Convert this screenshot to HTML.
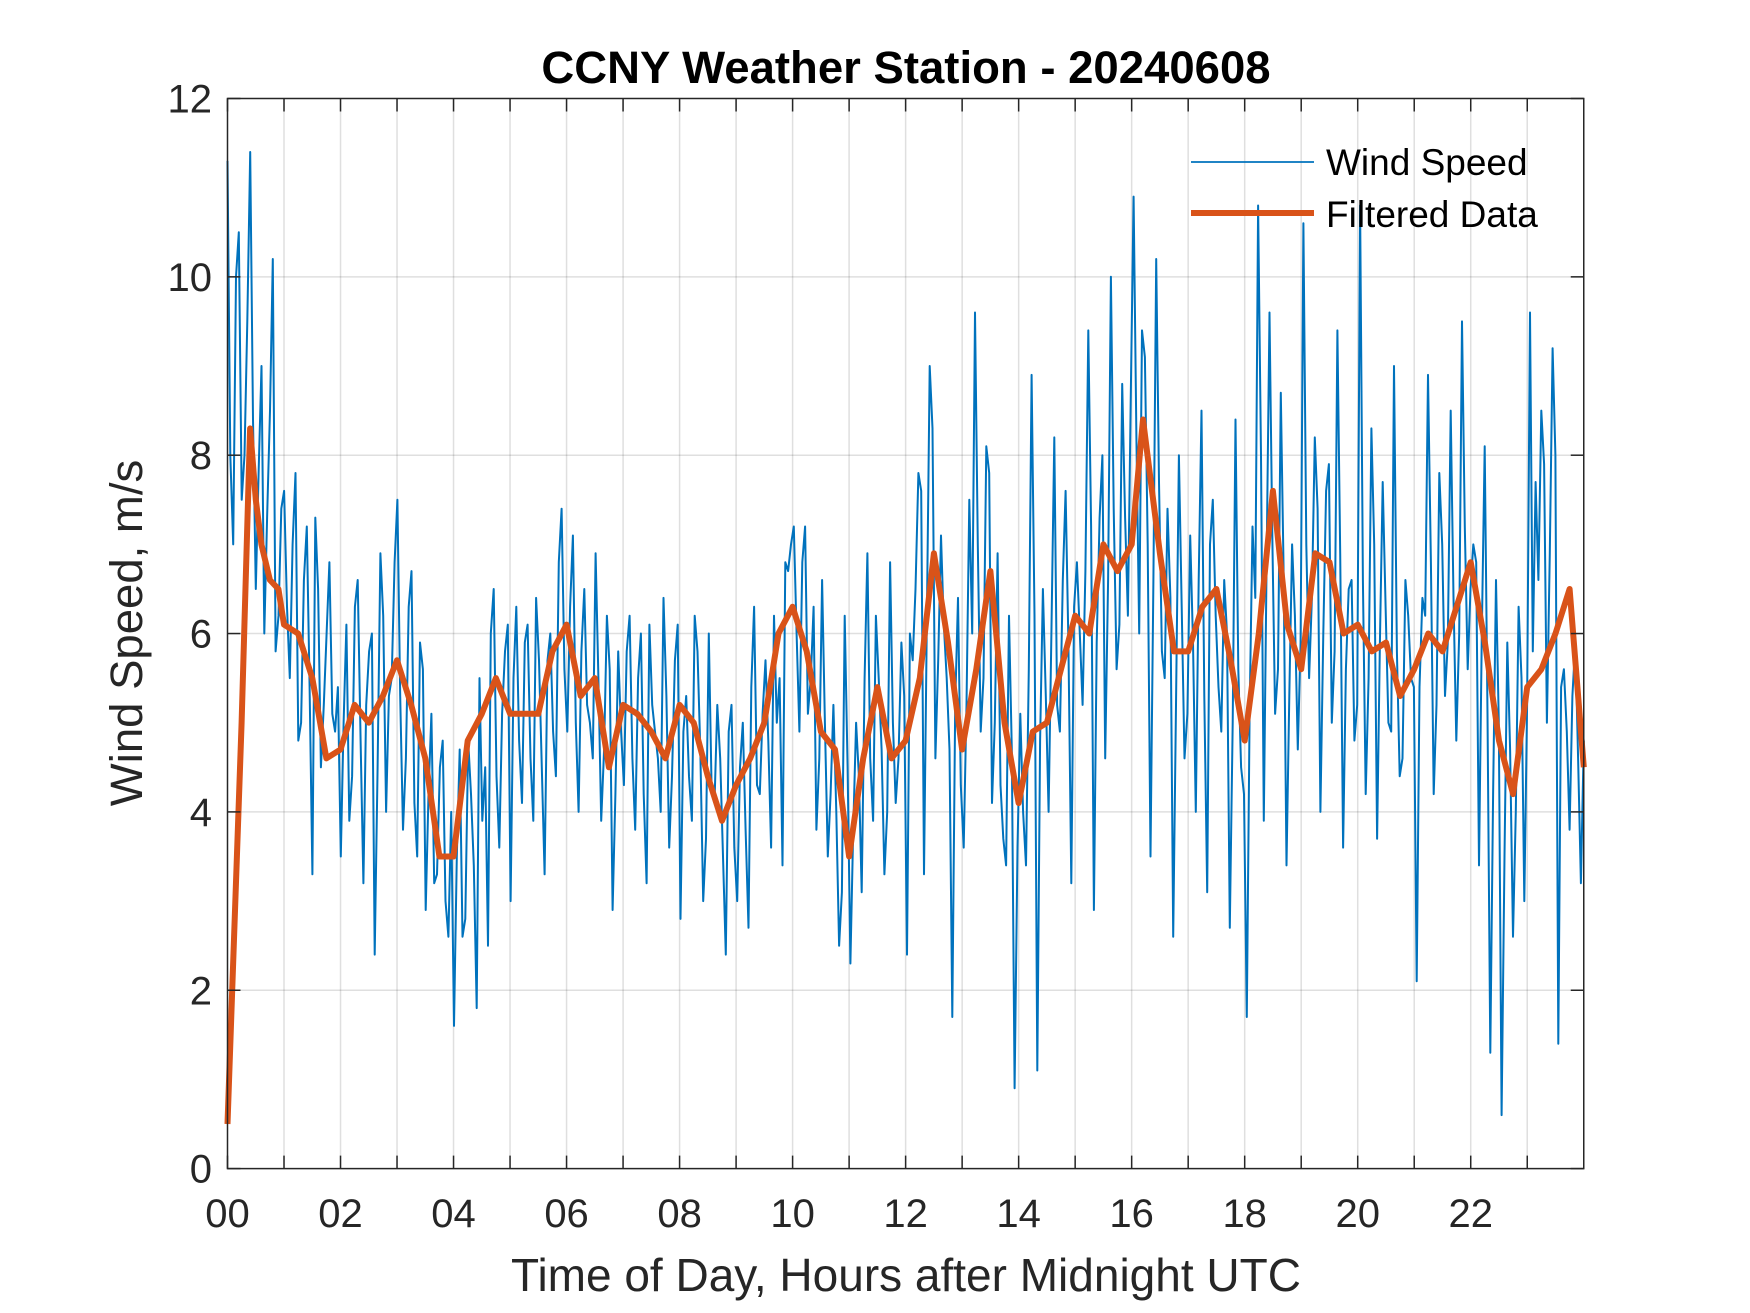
<!DOCTYPE html>
<html><head><meta charset="utf-8"><style>
html,body{margin:0;padding:0;background:#fff;}
svg{display:block;font-family:"Liberation Sans",Arial,sans-serif;}
</style></head><body>
<svg id="chart" width="1750" height="1313" viewBox="0 0 1750 1313">
<rect x="0" y="0" width="1750" height="1313" fill="#fff"/>
<g id="grid"></g>
<g id="series"></g>
<g id="axes"></g>
<text x="906" y="83" text-anchor="middle" font-size="45.5" font-weight="bold" fill="#000">CCNY Weather Station - 20240608</text>
<text x="906" y="1291" text-anchor="middle" font-size="46" fill="#262626">Time of Day, Hours after Midnight UTC</text>
<text transform="translate(142,633) rotate(-90)" text-anchor="middle" font-size="45.5" fill="#262626">Wind Speed, m/s</text>
<g>
<line x1="1191" y1="162" x2="1314" y2="162" stroke="#0072BD" stroke-width="1.8"/>
<text x="1326" y="175" font-size="37" fill="#000">Wind Speed</text>
<line x1="1191" y1="213" x2="1314" y2="213" stroke="#D95319" stroke-width="6"/>
<text x="1326" y="227" font-size="37" fill="#000">Filtered Data</text>
</g>
</svg>
<script>
const xTickLabels = ["00","02","04","06","08","10","12","14","16","18","20","22"];
const yTickLabels = ["0","2","4","6","8","10","12"];
const windSpeed = [
11.3,7.0,10.5,8.0,11.4,6.5,9.0,7.3,10.2,6.2,
7.6,5.5,7.8,5.0,7.2,3.3,6.5,5.2,6.8,4.9,
3.5,6.1,4.4,6.6,3.2,5.8,2.4,6.9,4.0,5.5,
7.5,3.8,6.3,4.1,5.9,2.9,5.1,3.3,4.8,2.6,
1.6,4.7,2.8,4.2,1.8,3.9,2.5,6.5,3.6,5.8,
3.0,6.3,4.1,6.1,3.9,5.7,3.3,6.0,4.4,7.4,
4.9,7.1,4.0,6.5,5.0,6.9,3.9,6.2,2.9,5.8,
4.3,6.2,3.8,6.0,3.2,5.2,4.6,6.4,3.6,5.7,
2.8,5.3,3.9,5.8,3.0,6.0,4.1,4.6,2.4,5.2,
3.0,5.0,2.7,6.3,4.2,5.7,3.6,5.0,3.4,6.7,
7.2,4.9,7.2,5.5,3.8,6.6,3.5,5.2,2.5,6.2,
2.3,5.0,3.1,6.9,3.9,5.5,3.3,6.8,4.1,5.9,
2.4,5.7,7.8,3.3,9.0,4.6,7.1,5.5,1.7,6.4,
3.6,7.5,9.6,4.9,8.1,4.1,6.9,3.7,6.2,0.9,
5.1,3.4,8.9,1.1,6.5,4.0,8.2,4.9,7.6,3.2,
6.8,5.2,9.4,2.9,7.3,4.6,10.0,5.6,8.8,6.2,
10.9,6.0,9.1,3.5,10.2,5.8,7.4,2.6,8.0,4.6,
7.1,4.0,8.5,3.1,7.5,5.4,6.6,2.7,8.4,4.5,
1.7,7.2,10.8,3.9,9.6,5.1,8.7,3.4,7.0,4.7,
10.6,5.5,8.2,4.0,7.6,5.0,9.4,3.6,6.5,4.8,
10.8,4.2,8.3,3.7,7.7,5.0,9.0,4.4,6.6,5.5,
2.1,6.4,8.9,4.2,7.8,5.3,8.5,4.8,9.5,5.6,
7.0,3.4,8.1,1.3,6.6,0.6,5.9,2.6,6.3,3.0,
9.6,7.7,8.5,5.0,9.2,1.4,5.6,3.8,5.9,3.2];
const windSpeedB = [
8.0,10.0,7.5,9.5,8.4,7.8,6.0,8.5,5.8,7.4,
6.3,7.0,4.8,6.6,5.4,7.3,4.5,6.0,5.1,5.4,
5.0,3.9,6.3,4.8,5.2,6.0,4.5,6.2,5.3,6.8,
5.3,4.6,6.7,3.5,5.6,4.2,3.2,4.5,3.0,4.0,
3.5,2.6,4.8,3.4,5.5,4.5,6.0,4.4,5.1,6.1,
5.5,4.8,5.9,4.6,6.4,4.5,5.7,4.9,6.8,5.6,
6.3,5.0,5.8,5.2,4.6,5.5,4.7,5.6,4.2,4.9,
5.8,4.6,5.5,4.2,6.1,4.9,4.0,5.3,4.4,6.1,
4.9,4.4,6.2,4.7,3.7,4.2,5.2,3.5,4.9,3.6,
4.5,3.8,5.4,4.3,5.1,4.8,6.2,5.5,6.8,7.0,
6.0,6.8,5.1,6.3,4.6,5.0,4.2,4.0,3.1,4.5,
3.8,4.4,5.5,4.6,6.2,4.7,4.0,5.0,4.6,5.3,
6.0,6.5,7.6,6.2,8.3,5.7,6.1,4.7,5.2,4.3,
5.2,6.0,7.0,5.5,7.8,5.0,4.3,3.4,4.7,3.6,
4.0,5.6,6.2,4.8,5.3,6.0,5.2,6.6,5.9,6.3,
6.0,6.7,7.2,5.9,8.0,6.6,7.4,6.1,7.3,8.6,
8.2,9.4,7.0,6.6,7.7,5.5,6.4,5.2,6.3,5.1,
5.9,6.6,5.3,7.0,6.2,4.9,6.0,5.0,5.6,4.2,
5.1,6.4,8.0,6.8,7.1,5.6,6.7,5.3,6.2,5.9,
7.0,6.4,7.4,6.0,7.9,5.8,6.9,5.6,6.6,5.2,
6.6,5.5,7.0,5.9,6.3,4.9,5.8,4.6,6.2,5.4,
5.4,6.2,6.8,5.2,7.0,5.9,6.4,6.0,7.2,6.5,
6.8,6.0,5.1,4.2,5.0,3.5,4.7,4.0,5.5,5.2,
5.8,6.6,7.9,6.9,8.0,5.4,4.9,5.3,4.6,4.8];
const filteredHours = [0,0.25,0.4,0.5,0.6,0.75,0.9,1.0,1.25,1.5,1.75,2.0,2.25,2.5,2.75,3.0,3.25,3.5,3.75,4.0,4.25,4.5,4.75,5.0,5.25,5.5,5.75,6.0,6.25,6.5,6.75,7.0,7.25,7.5,7.75,8.0,8.25,8.5,8.75,9.0,9.25,9.5,9.75,10.0,10.25,10.5,10.75,11.0,11.25,11.5,11.75,12.0,12.25,12.5,12.75,13.0,13.25,13.5,13.75,14.0,14.25,14.5,14.75,15.0,15.25,15.5,15.75,16.0,16.2,16.5,16.75,17.0,17.25,17.5,17.75,18.0,18.25,18.5,18.75,19.0,19.25,19.5,19.75,20.0,20.25,20.5,20.75,21.0,21.25,21.5,21.75,22.0,22.25,22.5,22.75,23.0,23.25,23.5,23.75,24.0];
const filteredValues = [0.5,5.0,8.3,7.5,7.0,6.6,6.5,6.1,6.0,5.5,4.6,4.7,5.2,5.0,5.3,5.7,5.2,4.6,3.5,3.5,4.8,5.1,5.5,5.1,5.1,5.1,5.8,6.1,5.3,5.5,4.5,5.2,5.1,4.9,4.6,5.2,5.0,4.4,3.9,4.3,4.6,5.0,6.0,6.3,5.8,4.9,4.7,3.5,4.6,5.4,4.6,4.8,5.5,6.9,5.9,4.7,5.6,6.7,5.0,4.1,4.9,5.0,5.6,6.2,6.0,7.0,6.7,7.0,8.4,6.9,5.8,5.8,6.3,6.5,5.7,4.8,6.0,7.6,6.1,5.6,6.9,6.8,6.0,6.1,5.8,5.9,5.3,5.6,6.0,5.8,6.3,6.8,5.9,4.8,4.2,5.4,5.6,6.0,6.5,4.5];

const NS = "http://www.w3.org/2000/svg";
const L = 227.5, R = 1583.75, T = 98.5, B = 1168.6;
const xMax = 24, yMax = 12;
function xs(h){ return L + (R - L) * h / xMax; }
function ys(v){ return B - (B - T) * v / yMax; }
function mk(tag, attrs, parent){
  const e = document.createElementNS(NS, tag);
  for (const k in attrs) e.setAttribute(k, attrs[k]);
  parent.appendChild(e);
  return e;
}
const grid = document.getElementById('grid');
const axes = document.getElementById('axes');
const series = document.getElementById('series');
for (let h = 1; h < xMax; h++) {
  const g = mk('line', {x1: xs(h), x2: xs(h), y1: T, y2: B, stroke: '#262626', 'stroke-opacity': 0.15, 'stroke-width': 1.5}, grid);
  
  
}
for (let i = 1; i < yTickLabels.length - 1; i++) {
  const v = Number(yTickLabels[i]);
  const g = mk('line', {x1: L, x2: R, y1: ys(v), y2: ys(v), stroke: '#262626', 'stroke-opacity': 0.15, 'stroke-width': 1.5}, grid);
  
  
}
const samples = [];
for (let i = 0; i < windSpeed.length; i++) {
  samples.push(windSpeed[i]);
  samples.push(windSpeedB[i]);
}
let d = '';
const n = samples.length;
for (let i = 0; i < n; i++) {
  const h = i * xMax / (n - 1);
  d += (i ? 'L' : 'M') + xs(h).toFixed(1) + ',' + ys(samples[i]).toFixed(1);
}
const ws = mk('path', {d: d, fill: 'none', stroke: '#0072BD', 'stroke-width': 2, 'stroke-linejoin': 'round'}, series);


let d2 = '';
for (let i = 0; i < filteredValues.length; i++) {
  d2 += (i ? 'L' : 'M') + xs(filteredHours[i]).toFixed(1) + ',' + ys(filteredValues[i]).toFixed(1);
}
const fl = mk('path', {d: d2, fill: 'none', stroke: '#D95319', 'stroke-width': 6, 'stroke-linejoin': 'round'}, series);


const box = mk('rect', {x: L, y: T, width: R - L, height: B - T, fill: 'none', stroke: '#262626', 'stroke-width': 1.5}, axes);


for (let h = 0; h <= xMax; h++) {
  const t1 = mk('line', {x1: xs(h), x2: xs(h), y1: B, y2: B - 13, stroke: '#262626', 'stroke-width': 1.5}, axes);
  
  
  const t2 = mk('line', {x1: xs(h), x2: xs(h), y1: T, y2: T + 13, stroke: '#262626', 'stroke-width': 1.5}, axes);
  
  
}
xTickLabels.forEach((lab, i) => {
  const t = mk('text', {x: xs(i * 2), y: 1227, 'text-anchor': 'middle', 'font-size': 40, fill: '#262626'}, axes);
  t.textContent = lab;
  
  
});
yTickLabels.forEach((lab) => {
  const v = Number(lab);
  const t1 = mk('line', {x1: L, x2: L + 13, y1: ys(v), y2: ys(v), stroke: '#262626', 'stroke-width': 1.5}, axes);
  
  
  const t2 = mk('line', {x1: R, x2: R - 13, y1: ys(v), y2: ys(v), stroke: '#262626', 'stroke-width': 1.5}, axes);
  
  
  const t = mk('text', {x: 212, y: ys(v) + 14, 'text-anchor': 'end', 'font-size': 40, fill: '#262626'}, axes);
  t.textContent = lab;
  
  
});
</script>
</body></html>
